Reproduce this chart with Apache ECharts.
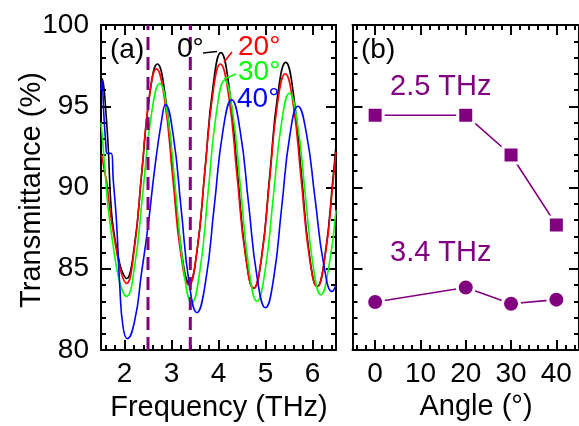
<!DOCTYPE html>
<html>
<head>
<meta charset="utf-8">
<script src="https://cdn.jsdelivr.net/npm/echarts@6/dist/echarts.min.js"></script>
<style>html,body{margin:0;padding:0;background:#fff}#c{width:579px;height:426px}</style>
</head>
<body>
<div id="c"></div>
<script>
// ---- Panel (a): transmittance spectra ----
const freqTicks = [2, 3, 4, 5, 6];
const freqMinorTicks = [1.6, 1.8, 2.2, 2.4, 2.6, 2.8, 3.2, 3.4, 3.6, 3.8, 4.2, 4.4, 4.6, 4.8, 5.2, 5.4, 5.6, 5.8, 6.2, 6.4];
const transTicks = [80, 85, 90, 95, 100];

const curve0Freq = [1.50,1.52,1.56,1.60,1.65,1.72,1.80,1.90,1.97,2.04,2.205,2.37,2.535,2.70,2.87,3.04,3.21,3.38,3.5475,3.715,3.8825,4.05,4.225,4.40,4.575,4.75,4.92,5.09,5.26,5.43,5.5975,5.765,5.9325,6.10,6.27,6.44,6.50];
const curve0T    = [96.2,96.7,96.2,94.8,92.7,88.6,86.8,85.3,84.7,84.4,86.3,91.0,95.7,97.6,95.6,90.85,86.1,84.1,86.2,91.2,96.2,98.3,96.2,91.05,85.9,83.8,85.8,90.75,95.7,97.7,95.7,90.8,85.9,83.9,85.9,90.7,92.6];

const curve20Freq = [1.50,1.52,1.58,1.62,1.69,1.80,1.90,1.97,2.04,2.20,2.36,2.52,2.68,2.8525,3.025,3.1975,3.37,3.5375,3.705,3.8725,4.04,4.2175,4.395,4.5725,4.75,4.9175,5.085,5.2525,5.42,5.59,5.76,5.93,6.10,6.27,6.44,6.50];
const curve20T    = [92.0,91.9,90.9,90.4,88.6,86.6,85.1,84.4,84.1,86.0,90.7,95.4,97.3,95.4,90.65,85.9,84.0,86.0,90.8,95.6,97.6,95.6,90.7,85.8,83.8,85.7,90.4,95.1,97.0,95.1,90.45,85.8,83.9,85.8,90.4,92.2];

const curve30Freq = [1.50,1.54,1.60,1.65,1.75,1.85,1.95,2.04,2.2175,2.395,2.5725,2.75,2.92,3.09,3.26,3.43,3.605,3.78,3.955,4.13,4.3025,4.475,4.6475,4.82,4.9925,5.165,5.3375,5.51,5.6775,5.845,6.0125,6.18,6.3525,6.50];
const curve30T    = [94.0,92.7,90.5,88.8,86.6,84.8,83.7,83.3,85.2,89.85,94.5,96.4,94.4,89.65,84.9,82.9,84.9,89.75,94.6,96.6,94.6,89.8,85.0,83.0,84.9,89.4,93.9,95.8,94.0,89.6,85.2,83.4,85.2,88.6];

const curve40Freq = [1.50,1.52,1.56,1.60,1.63,1.72,1.76,1.83,1.90,1.97,2.06,2.22,2.36,2.50,2.64,2.79,2.87,3.0375,3.205,3.3725,3.54,3.725,3.91,4.095,4.28,4.46,4.64,4.82,5.00,5.1725,5.345,5.5175,5.69,5.8725,6.055,6.2375,6.42,6.50];
const curve40T    = [96.0,96.6,94.5,92.8,92.1,92.1,90.5,87.9,83.9,81.4,80.7,81.85,84.7,87.6,91.1,94.15,95.1,93.2,88.7,84.2,82.3,84.2,88.85,93.5,95.4,93.5,89.0,84.5,82.6,84.4,88.8,93.2,95.0,93.3,89.3,85.3,83.6,84.0];

const markerFreqs = [2.5, 3.4];

// ---- Panel (b): transmittance vs angle ----
const angleTicks = [0, 10, 20, 30, 40];
const angleMinorTicks = [-4, -2, 2, 4, 6, 8, 12, 14, 16, 18, 22, 24, 26, 28, 32, 34, 36, 38, 42, 44];
const angles = [0, 20, 30, 40];
const trans25 = [94.45, 94.45, 92.0, 87.7];
const trans34 = [82.95, 83.85, 82.85, 83.1];

const FONT = '"Liberation Sans", Arial, sans-serif';
const PURPLE = '#800080';

function pairs(xs, ys) { return xs.map((x, i) => [x, ys[i]]); }

const G0 = {left: 101, top: 25, width: 235, height: 325};
const G2 = {left: 352.5, top: 25, width: 235, height: 325};

function majorX(grid, pos, min, max, labels, ticks) {
  return {
    type: 'value', gridIndex: grid, position: pos, min: min, max: max,
    axisLine: {show: true, onZero: false, lineStyle: {color: '#000', width: 2}},
    axisTick: {show: true, inside: true, length: 10, customValues: ticks, lineStyle: {color: '#000', width: 2}},
    axisLabel: {show: labels, customValues: ticks, margin: 10, color: '#000', fontSize: 28, fontFamily: FONT},
    splitLine: {show: false}, minorTick: {show: false}
  };
}
function minorX(grid, pos, min, max, ticks) {
  return {
    type: 'value', gridIndex: grid, position: pos, min: min, max: max,
    axisLine: {show: false, onZero: false},
    axisTick: {show: true, inside: true, length: 5, customValues: ticks, lineStyle: {color: '#000', width: 2}},
    axisLabel: {show: false},
    splitLine: {show: false}
  };
}
function yAx(grid, pos, labels) {
  return {
    type: 'value', gridIndex: grid, position: pos, min: 80, max: 100, interval: 5,
    axisLine: {show: true, onZero: false, lineStyle: {color: '#000', width: 2}},
    axisTick: {show: true, inside: true, length: 10, lineStyle: {color: '#000', width: 2}},
    minorTick: {show: true, splitNumber: 5, length: 5, lineStyle: {color: '#000', width: 2}},
    axisLabel: {show: labels, margin: 12, color: '#000', fontSize: 28, fontFamily: FONT},
    splitLine: {show: false}
  };
}
function hiddenY(grid) {
  return {type: 'value', gridIndex: grid, min: 80, max: 100, show: false, axisLine: {onZero: false}};
}

function curve(name, xs, ys, color) {
  return {
    name: name, type: 'line', xAxisIndex: 0, yAxisIndex: 0,
    data: pairs(xs, ys), smooth: 0.5, showSymbol: false, symbol: 'none',
    lineStyle: {color: color, width: 1.6}, clip: true, z: 3
  };
}

const series = [
  curve('0°', curve0Freq, curve0T, '#000000'),
  curve('20°', curve20Freq, curve20T, '#ff0000'),
  curve('30°', curve30Freq, curve30T, '#00ff00'),
  curve('40°', curve40Freq, curve40T, '#0000ff')
];
markerFreqs.forEach(f => {
  series.push({
    type: 'line', xAxisIndex: 0, yAxisIndex: 0, data: [[f, 80], [f, 100]],
    showSymbol: false, symbol: 'none',
    lineStyle: {color: PURPLE, width: 3, type: [13, 7]}, z: 4
  });
});
series.push({
  name: '2.5 THz', type: 'line', xAxisIndex: 4, yAxisIndex: 3,
  data: pairs(angles, trans25), symbol: 'rect', symbolSize: 16,
  itemStyle: {color: PURPLE, borderColor: '#fff', borderWidth: 3},
  lineStyle: {color: PURPLE, width: 1.6}, clip: false, z: 3
});
series.push({
  name: '3.4 THz', type: 'line', xAxisIndex: 4, yAxisIndex: 3,
  data: pairs(angles, trans34), symbol: 'circle', symbolSize: 17,
  itemStyle: {color: PURPLE, borderColor: '#fff', borderWidth: 3},
  lineStyle: {color: PURPLE, width: 1.6}, clip: false, z: 3
});

function txt(x, y, s, color, align, size, rot) {
  return {
    type: 'text', x: x, y: y, rotation: rot || 0, z: 10,
    style: {text: s, fill: color, font: (size || 28) + 'px ' + FONT,
            textAlign: align || 'left', textVerticalAlign: 'middle',
            align: align || 'left', verticalAlign: 'middle'}
  };
}
function seg(x1, y1, x2, y2, color) {
  return {type: 'line', z: 10, shape: {x1: x1, y1: y1, x2: x2, y2: y2}, style: {stroke: color, lineWidth: 1.6}};
}

const option = {
  animation: false,
  backgroundColor: '#fff',
  grid: [
    Object.assign({}, G0), Object.assign({}, G0),
    Object.assign({}, G2), Object.assign({}, G2)
  ],
  xAxis: [
    majorX(0, 'bottom', 1.5, 6.5, true, freqTicks),
    majorX(0, 'top', 1.5, 6.5, false, freqTicks),
    minorX(1, 'bottom', 1.5, 6.5, freqMinorTicks),
    minorX(1, 'top', 1.5, 6.5, freqMinorTicks),
    majorX(2, 'bottom', -5, 45, true, angleTicks),
    majorX(2, 'top', -5, 45, false, angleTicks),
    minorX(3, 'bottom', -5, 45, angleMinorTicks),
    minorX(3, 'top', -5, 45, angleMinorTicks)
  ],
  yAxis: [
    yAx(0, 'left', true),
    yAx(0, 'right', false),
    hiddenY(1),
    yAx(2, 'left', false),
    yAx(2, 'right', false),
    hiddenY(3)
  ],
  series: series,
  graphic: [
    txt(32, 190, 'Transmittance (%)', '#000', 'center', 29, Math.PI / 2),
    txt(219, 408, 'Frequency (THz)', '#000', 'center', 29),
    txt(476, 407, 'Angle (°)', '#000', 'center', 29),
    txt(110, 50, '(a)', '#000', 'left', 28),
    txt(361, 50, '(b)', '#000', 'left', 28),
    txt(177, 49, '0°', '#000', 'left', 28),
    txt(238, 47, '20°', '#ff0000', 'left', 28),
    txt(238, 72, '30°', '#00ff00', 'left', 28),
    txt(237, 99, '40°', '#0000ff', 'left', 28),
    seg(203, 53, 217, 51.5, '#000'),
    seg(224, 62, 232, 52, '#ff0000'),
    seg(224, 79, 236, 74, '#00ff00'),
    txt(390, 87, '2.5 THz', PURPLE, 'left', 29),
    txt(390, 253, '3.4 THz', PURPLE, 'left', 29)
  ]
};

const chart = echarts.init(document.getElementById('c'), null, {renderer: 'canvas'});
chart.setOption(option);
</script>
</body>
</html>
